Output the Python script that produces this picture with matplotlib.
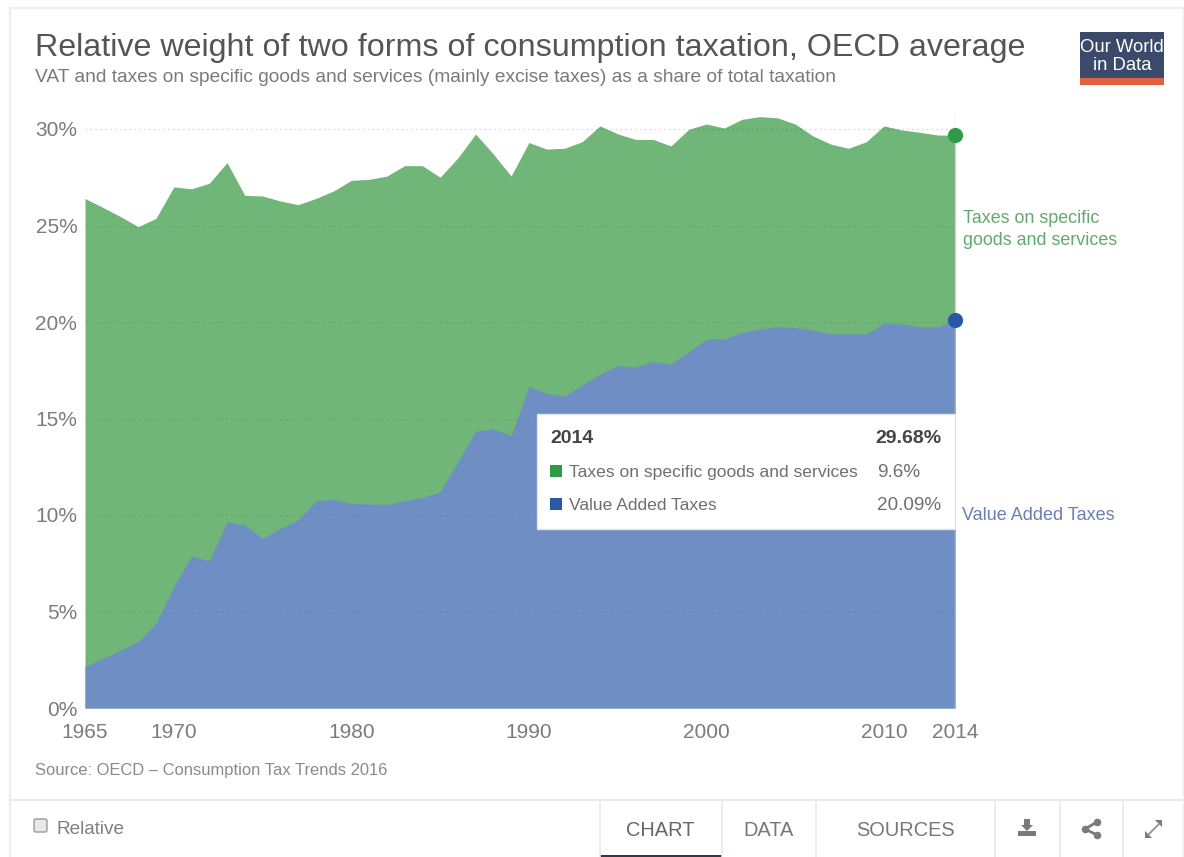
import numpy as np
import matplotlib
matplotlib.use("Agg")
import matplotlib.pyplot as plt
from matplotlib.patches import Rectangle, FancyBboxPatch, Polygon

plt.rcParams['font.family'] = ['Liberation Sans', 'DejaVu Sans']

W, H = 1184, 857

years = list(range(1965, 2015))
vat = [2.14, 2.57, 3.0, 3.44, 4.39, 6.29, 7.88, 7.63, 9.65, 9.48,
       8.79, 9.31, 9.74, 10.74, 10.81, 10.6, 10.57, 10.55, 10.74, 10.91,
       11.21, 12.76, 14.35, 14.46, 14.11, 16.65, 16.3, 16.17, 16.74, 17.3,
       17.74, 17.68, 17.95, 17.81, 18.46, 19.12, 19.12, 19.46, 19.64, 19.76,
       19.72, 19.59, 19.38, 19.38, 19.38, 19.93, 19.9, 19.76, 19.76, 20.09]
total = [26.4, 25.94, 25.46, 24.94, 25.37, 27.0, 26.9, 27.19, 28.26, 26.56,
         26.53, 26.27, 26.08, 26.4, 26.79, 27.34, 27.39, 27.56, 28.1, 28.1,
         27.5, 28.5, 29.74, 28.7, 27.56, 29.3, 28.96, 29.0, 29.34, 30.16,
         29.75, 29.46, 29.46, 29.12, 29.98, 30.26, 30.05, 30.5, 30.64, 30.58,
         30.26, 29.64, 29.22, 29.0, 29.34, 30.16, 29.95, 29.83, 29.69, 29.68]

x_ticks = [1965, 1970, 1980, 1990, 2000, 2010, 2014]
y_ticks = [0, 5, 10, 15, 20, 25, 30]

title = "Relative weight of two forms of consumption taxation, OECD average"
subtitle = "VAT and taxes on specific goods and services (mainly excise taxes) as a share of total taxation"
source = "Source: OECD \u2013 Consumption Tax Trends 2016"
tip_year = "2014"
tip_total = "29.68%"
tip_rows = [("Taxes on specific goods and services", "9.6%"),
            ("Value Added Taxes", "20.09%")]
tabs = ["CHART", "DATA", "SOURCES"]

GREEN_AREA = "#70b678"
BLUE_AREA = "#6f8fc4"
GREEN_DOT = "#2f9b45"
BLUE_DOT = "#2a58a8"
GREY = "#7b7b7b"

fig = plt.figure(figsize=(W / 100, H / 100), dpi=100, facecolor="white")

# plot area: x 85-955 px, 0% at y=708, 30% at y=129
y_top = 708 - 31 * 19.3
ax = fig.add_axes([85 / W, 1 - 708 / H, 870 / W, (708 - y_top) / H], facecolor="none")
ax.set_xlim(1965, 2014)
ax.set_ylim(0, 31)
# green runs down to 0 so no light seam shows between the two areas
ax.fill_between(years, 0, total, color=GREEN_AREA, lw=0, zorder=2)
ax.fill_between(years, 0, vat, color=BLUE_AREA, lw=0, zorder=2)
for t in y_ticks[1:]:
    ax.axhline(t, color="#000000", alpha=0.13 if t == 30 else 0.07, lw=1, ls=(0, (1.5, 2)), zorder=3)
ax.plot([2014, 2014], [0, 30.9], color="#d9d9d9", lw=1, zorder=3)
ax.scatter([2014], [total[-1]], s=120, color=GREEN_DOT, lw=0, zorder=5, clip_on=False)
ax.scatter([2014], [vat[-1]], s=120, color=BLUE_DOT, lw=0, zorder=5, clip_on=False)
for s in ax.spines.values():
    s.set_visible(False)
ax.set_xticks(x_ticks)
ax.set_yticks(y_ticks)
ax.set_yticklabels([f"{t}%" for t in y_ticks])
ax.tick_params(length=0, labelsize=15, labelcolor=GREY)
ax.tick_params(axis="y", pad=5.5)
ax.tick_params(axis="x", pad=11)

# page furniture, in pixel coordinates
ov = fig.add_axes([0, 0, 1, 1], facecolor="none", zorder=5)
ov.set_xlim(0, W)
ov.set_ylim(H, 0)
ov.axis("off")

ov.plot([10, 10, 1183], [857, 8, 8], color="#eeeeee", lw=1.5)
ov.plot([1183, 1183], [8, 857], color="#eeeeee", lw=1)
ov.plot([10, 1183], [800, 800], color="#e6e6e6", lw=1.2)
for px in [600, 722, 816, 995, 1060, 1123]:
    ov.plot([px, px], [800, 857], color="#eaeaea", lw=1.2)
ov.add_patch(Rectangle((600, 854.5), 122, 2.5, color="#2b3a52", lw=0))

ov.text(35, 48, title, fontsize=23.25, color="#555555", va="center")
ov.text(35, 77, subtitle, fontsize=13.8, color="#7a7a7a", va="center")
ov.text(35, 770, source, fontsize=11.9, color="#8a8a8a", va="center")

# logo
ov.add_patch(Rectangle((1080, 32), 84, 46, color="#3b4a6b", lw=0))
ov.add_patch(Rectangle((1080, 78), 84, 7, color="#e0603f", lw=0))
ov.text(1122, 47, "Our World", fontsize=13.3, color="white", ha="center", va="center")
ov.text(1122, 65, "in Data", fontsize=13.3, color="white", ha="center", va="center")

# line labels
ov.text(963, 218, "Taxes on specific", fontsize=12.9, color="#63a86f", va="center")
ov.text(963, 240, "goods and services", fontsize=12.9, color="#63a86f", va="center")
ov.text(962, 515, "Value Added Taxes", fontsize=13, color="#6a7fb5", va="center")

# tooltip
ov.add_patch(Rectangle((537, 414), 418, 115, facecolor="white", edgecolor="#e4e4e4", lw=1))
ov.text(550, 438, tip_year, fontsize=14, fontweight="bold", color="#444444", va="center")
ov.text(942, 438, tip_total, fontsize=14, fontweight="bold", color="#444444", va="center", ha="right")
for (name, val), y_px, c in zip(tip_rows, [471, 504], [GREEN_DOT, BLUE_DOT]):
    ov.add_patch(Rectangle((550, y_px - 6), 12, 12, color=c, lw=0))
    ov.text(569, y_px + 1, name, fontsize=12.6, color="#6f6f6f", va="center")
    ov.text(877, y_px + 1, val, fontsize=13.6, color="#6f6f6f", va="center")

# bottom bar
ov.add_patch(FancyBboxPatch((34, 819), 13, 13, boxstyle="round,pad=0,rounding_size=2",
                            facecolor="#e8e8e8", edgecolor="#9a9a9a", lw=1))
ov.text(56, 830, "Relative", fontsize=13.7, color="#808080", va="center")
for name, px, c in zip(tabs, [660, 769, 905], ["#666666", "#777777", "#777777"]):
    ov.text(px, 830, name, fontsize=14.4, color=c, ha="center", va="center")

# download icon
ov.add_patch(Polygon([[1024, 819], [1030, 819], [1030, 825], [1033, 825], [1027, 831], [1021, 825], [1024, 825]],
                     color="#7a7a7a", lw=0))
ov.add_patch(Rectangle((1018, 831), 18, 5, color="#7a7a7a", lw=0))
# share icon
ov.plot([1097, 1085, 1097], [822, 829, 835], color="#7a7a7a", lw=2)
ov.scatter([1097, 1085, 1097], [822, 829, 835], s=30, color="#7a7a7a", lw=0)
# expand icon
ov.plot([1148, 1160], [835, 823], color="#8a8a8a", lw=1.2)
ov.add_patch(Polygon([[1162, 820], [1162, 827], [1155, 820]], color="#7a7a7a", lw=0))
ov.add_patch(Polygon([[1145, 838], [1145, 831], [1152, 838]], color="#7a7a7a", lw=0))

fig.savefig("out.png", dpi=100)
